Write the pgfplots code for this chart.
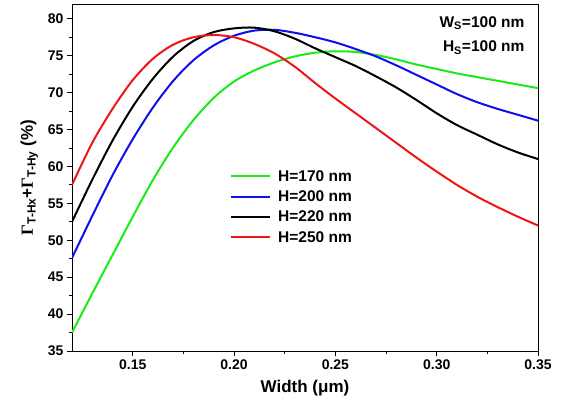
\documentclass[border=0pt]{standalone}
\usepackage{fontspec}
\setmainfont{Liberation Sans}
\newfontfamily\greekserif{Liberation Serif}
\usepackage{pgfplots}
\pgfplotsset{compat=1.18}
\definecolor{cgreen}{RGB}{25,235,25}
\definecolor{cblue}{RGB}{15,15,235}
\definecolor{cred}{RGB}{240,20,20}

\begin{document}
\begin{tikzpicture}
\begin{axis}[
    scale only axis,
    width=466pt, height=347pt,
    xmin=0.12, xmax=0.35,
    ymin=35, ymax=82,
    xtick={0.15,0.20,0.25,0.30,0.35},
    ytick={35,40,45,50,55,60,65,70,75,80},
    minor x tick num=1, minor y tick num=1,
    tick align=outside, tick pos=left,
    major tick length=5pt, minor tick length=3pt,
    axis line style={line width=1pt},
    every tick/.style={line width=0.9pt, black},
    /pgf/number format/assume math mode=true,
    ticklabel style={font=\bfseries\fontsize{14}{16}\selectfont},
    xticklabel style={/pgf/number format/.cd, fixed, fixed zerofill, precision=2},
    xlabel={Width (μm)},
    xlabel style={font=\bfseries\fontsize{17}{19}\selectfont, yshift=-4pt},
    ylabel={{\greekserif Γ}\textsubscript{T-Hx}+{\greekserif Γ}\textsubscript{T-Hy} (\%)},
    ylabel style={font=\bfseries\fontsize{17}{19}\selectfont},
    ylabel shift=3pt,
    legend style={at={(0.339,0.527)}, anchor=north west, draw=none, fill=none,
        inner sep=0pt, row sep=4pt, column sep=5pt,
        font=\bfseries\fontsize{15.5}{17}\selectfont},
    legend cell align=left,
    legend image code/.code={\draw[#1] (0pt,0pt) -- (39pt,0pt);},
]
% H=170 nm
\addplot[color=cgreen, line width=2pt, smooth] coordinates {
    (0.12,37.5) (0.13,42.8) (0.14,48.0) (0.15,53.2) (0.16,58.2) (0.17,62.6)
    (0.18,66.3) (0.19,69.3) (0.20,71.5) (0.21,73.0) (0.22,74.1) (0.23,74.9)
    (0.24,75.4) (0.25,75.6) (0.26,75.5) (0.27,75.1) (0.28,74.5) (0.29,73.8)
    (0.30,73.2) (0.31,72.6) (0.32,72.1) (0.33,71.6) (0.34,71.1) (0.35,70.6)
};
\addlegendentry{H=170 nm}
% H=200 nm
\addplot[color=cblue, line width=2pt, smooth] coordinates {
    (0.12,47.6) (0.13,53.3) (0.14,58.8) (0.15,63.7) (0.16,68.0) (0.17,71.6)
    (0.18,74.4) (0.19,76.4) (0.20,77.7) (0.21,78.4) (0.22,78.5) (0.23,78.1)
    (0.24,77.5) (0.25,76.8) (0.26,75.9) (0.27,74.9) (0.28,73.7) (0.29,72.4)
    (0.30,71.1) (0.31,69.8) (0.32,68.7) (0.33,67.8) (0.34,67.0) (0.35,66.2)
};
\addlegendentry{H=200 nm}
% H=220 nm
\addplot[color=black, line width=2pt, smooth] coordinates {
    (0.12,52.5) (0.13,58.2) (0.14,63.5) (0.15,68.1) (0.16,71.9) (0.17,74.9)
    (0.18,77.0) (0.19,78.2) (0.20,78.7) (0.21,78.8) (0.22,78.3) (0.23,77.3)
    (0.24,76.0) (0.25,74.8) (0.26,73.6) (0.27,72.2) (0.28,70.7) (0.29,69.0)
    (0.30,67.2) (0.31,65.6) (0.32,64.3) (0.33,63.0) (0.34,61.9) (0.35,61.0)
};
\addlegendentry{H=220 nm}
% H=250 nm
\addplot[color=cred, line width=2pt, smooth] coordinates {
    (0.12,57.5) (0.13,63.2) (0.14,67.8) (0.15,71.7) (0.16,74.6) (0.17,76.5)
    (0.18,77.5) (0.19,77.8) (0.20,77.5) (0.21,76.6) (0.22,75.3) (0.23,73.5)
    (0.24,71.3) (0.25,69.2) (0.26,67.2) (0.27,65.2) (0.28,63.2) (0.29,61.2)
    (0.30,59.3) (0.31,57.5) (0.32,55.9) (0.33,54.5) (0.34,53.2) (0.35,52.0)
};
\addlegendentry{H=250 nm}

\node[anchor=base east, font=\bfseries\fontsize{15.5}{17}\selectfont]
    at (rel axis cs:0.9785,0.933) {W\textsubscript{S}=100 nm};
\node[anchor=base east, font=\bfseries\fontsize{15.5}{17}\selectfont]
    at (rel axis cs:0.9785,0.862) {H\textsubscript{S}=100 nm};
\end{axis}
\pgfresetboundingbox
\path[use as bounding box] ([xshift=-72pt,yshift=-49pt]current axis.south west) rectangle ++(564pt,400pt);
\end{tikzpicture}
\end{document}
